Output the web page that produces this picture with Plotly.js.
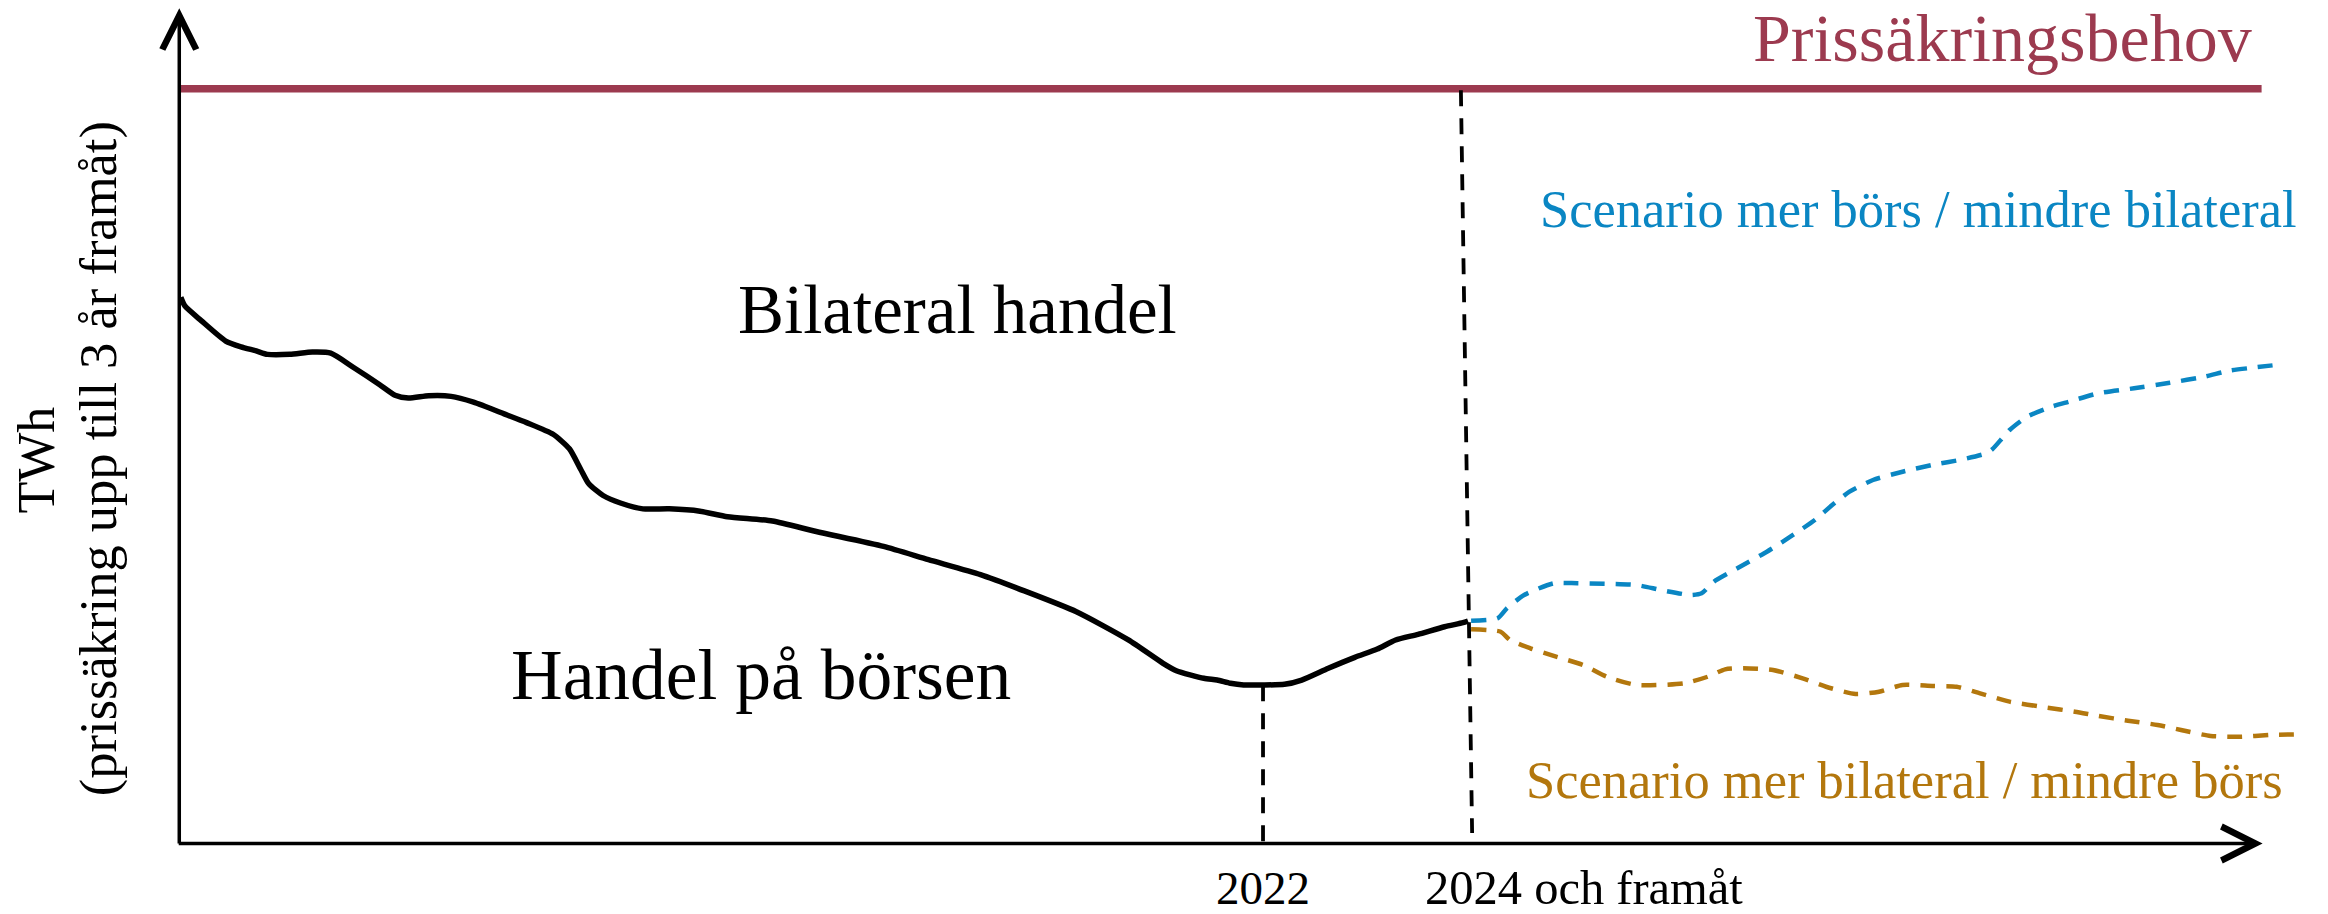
<!DOCTYPE html>
<html>
<head>
<meta charset="utf-8">
<script src="https://cdn.plot.ly/plotly-3.0.1.min.js"></script>
<style>
  html, body { margin: 0; padding: 0; background: #ffffff; }
  #chart { width: 2328px; height: 914px; }
</style>
</head>
<body>
<div id="chart"></div>
<script>
// ---- Data (schematic) ----
const histYears = [2011.39, 2011.43, 2011.59, 2011.83, 2011.98, 2012.13, 2012.24, 2012.46, 2012.68, 2012.86,
  2013.08, 2013.34, 2013.49, 2013.62, 2013.82, 2014.04, 2014.26, 2014.56, 2014.78, 2015.04,
  2015.20, 2015.31, 2015.39, 2015.53, 2015.70, 2015.92, 2016.18, 2016.48, 2016.75, 2017.19,
  2017.62, 2018.28, 2018.72, 2019.23, 2019.66, 2020.17, 2020.68, 2021.02, 2021.15, 2021.42,
  2021.55, 2021.68, 2021.81, 2021.99, 2022.21, 2022.38, 2022.64, 2022.90, 2023.12, 2023.30,
  2023.52, 2023.78, 2023.96, 2024.01];
const histTWh = [72.64, 71.49, 69.55, 66.84, 66.07, 65.53, 65.07, 65.07, 65.37, 65.23,
  63.37, 61.05, 59.66, 59.27, 59.58, 59.50, 58.73, 57.18, 56.02, 54.47,
  52.55, 49.84, 47.90, 46.35, 45.36, 44.58, 44.58, 44.27, 43.54, 42.97,
  41.58, 39.60, 37.84, 35.86, 33.70, 30.94, 27.20, 24.10, 23.12, 22.11,
  21.88, 21.45, 21.22, 21.22, 21.31, 21.88, 23.44, 24.89, 25.99, 27.19,
  27.94, 28.95, 29.48, 29.71];

// Scenario: mer börs / mindre bilateral
const moreExchangeYears = [2024.04, 2024.30, 2024.39, 2024.56, 2024.85, 2025.08, 2025.66, 2025.90, 2026.19, 2026.30,
  2026.42, 2026.65, 2026.94, 2027.17, 2027.41, 2027.58, 2027.75, 2027.98, 2028.27, 2028.56,
  2028.86, 2029.09, 2029.15, 2029.32, 2029.49, 2029.73, 2029.90, 2030.19, 2030.54, 2030.89,
  2031.23, 2031.47, 2031.70, 2031.93];
const moreExchangeTWh = [29.75, 30.07, 31.39, 33.16, 34.71, 34.71, 34.48, 33.82, 33.16, 33.38,
  34.92, 36.70, 38.90, 40.89, 43.10, 45.09, 46.86, 48.41, 49.51, 50.40,
  51.15, 51.95, 52.48, 55.04, 56.80, 58.13, 58.79, 59.91, 60.57, 61.31,
  62.11, 62.90, 63.30, 63.66];

// Scenario: mer bilateral / mindre börs
const moreBilateralYears = [2024.04, 2024.33, 2024.42, 2024.62, 2024.85, 2025.14, 2025.37, 2025.66, 2026.13, 2026.36,
  2026.53, 2026.71, 2027.00, 2027.29, 2027.52, 2027.81, 2028.04, 2028.27, 2028.56, 2028.80,
  2029.03, 2029.32, 2029.67, 2029.96, 2030.19, 2030.48, 2030.77, 2031.00, 2031.29, 2031.58,
  2031.87, 2032.16];
const moreBilateralTWh = [28.61, 28.29, 27.19, 26.09, 25.07, 23.87, 22.32, 21.22, 21.45, 22.32,
  23.30, 23.44, 23.21, 22.11, 20.99, 20.03, 20.33, 21.22, 21.09, 20.99,
  20.12, 19.01, 18.26, 17.68, 17.11, 16.49, 15.92, 15.25, 14.46, 14.36,
  14.59, 14.68];

// Prissäkringsbehov (hedging need)
const hedgeYears = [2011.38, 2031.79];
const hedgeTWh = [100.3, 100.3];

// Marker lines (2022 and 2024)
const guideYears = [[2022.0, 2022.0], [2023.94, 2024.05]];
const guideTWh = [[21.2, -1.06], [100.1, 1.6]];

// Axis extents
const axisOrigin = [2011.375, 0.2];
const axisEnds = [2031.80, 110.97];

// Tick labels
const tickYears = [2022, 2024];
const tickLabels = ['2022', '2024 och framåt'];

// Axis title lines
const yTitleLines = ['TWh', '(prissäkring upp till 3 år framåt)'];

// ---- Style ----
const FONT = 'Liberation Serif, Times New Roman, serif';
const RED = '#9C3A4F';
const BLUE = '#0A86C3';
const ORANGE = '#B3770D';

const traces = [
  { x: hedgeYears, y: hedgeTWh, mode: 'lines', line: { color: RED, width: 7.5 }, hoverinfo: 'skip', showlegend: false },
  { x: guideYears[0], y: guideTWh[0], mode: 'lines', line: { color: '#000', width: 3.8, dash: '16px,12px' }, hoverinfo: 'skip', showlegend: false },
  { x: guideYears[1], y: guideTWh[1], mode: 'lines', line: { color: '#000', width: 3.8, dash: '16px,12px' }, hoverinfo: 'skip', showlegend: false },
  { x: histYears, y: histTWh, mode: 'lines', line: { color: '#000', width: 5.5, shape: 'spline', smoothing: 0.6 }, hoverinfo: 'skip', showlegend: false },
  { x: moreExchangeYears, y: moreExchangeTWh, mode: 'lines', line: { color: BLUE, width: 4.5, dash: '15px,11px', shape: 'spline', smoothing: 0.6 }, hoverinfo: 'skip', showlegend: false },
  { x: moreBilateralYears, y: moreBilateralTWh, mode: 'lines', line: { color: ORANGE, width: 4.5, dash: '15px,11px', shape: 'spline', smoothing: 0.6 }, hoverinfo: 'skip', showlegend: false }
];

const annotations = [
  // axes with open chevron heads
  { x: axisEnds[0], y: axisOrigin[1], ax: axisOrigin[0] - 0.02, ay: axisOrigin[1], xref: 'x', yref: 'y', axref: 'x', ayref: 'y',
    text: '', showarrow: true, arrowhead: 5, arrowsize: 1.9, arrowwidth: 3.5, arrowcolor: '#000', standoff: 0, startstandoff: 0 },
  { x: axisOrigin[0], y: axisEnds[1], ax: axisOrigin[0], ay: axisOrigin[1] - 0.2, xref: 'x', yref: 'y', axref: 'x', ayref: 'y',
    text: '', showarrow: true, arrowhead: 5, arrowsize: 1.9, arrowwidth: 3.5, arrowcolor: '#000', standoff: 0, startstandoff: 0 },
  // labels
  { x: 2031.715, y: 107.03, xref: 'x', yref: 'y', xanchor: 'right', yanchor: 'middle', showarrow: false,
    text: 'Prissäkringsbehov', font: { family: FONT, size: 68, color: RED } },
  { x: 2032.16, y: 84.35, xref: 'x', yref: 'y', xanchor: 'right', yanchor: 'middle', showarrow: false,
    text: 'Scenario mer börs / mindre bilateral', font: { family: FONT, size: 52.5, color: BLUE } },
  { x: 2032.02, y: 8.62, xref: 'x', yref: 'y', xanchor: 'right', yanchor: 'middle', showarrow: false,
    text: 'Scenario mer bilateral / mindre börs', font: { family: FONT, size: 52.5, color: ORANGE } },
  { x: 2019.0, y: 70.95, xref: 'x', yref: 'y', xanchor: 'center', yanchor: 'middle', showarrow: false,
    text: 'Bilateral handel', font: { family: FONT, size: 69, color: '#000' } },
  { x: 2017.08, y: 22.55, xref: 'x', yref: 'y', xanchor: 'center', yanchor: 'middle', showarrow: false,
    text: 'Handel på börsen', font: { family: FONT, size: 71.5, color: '#000' } },
  // tick labels
  { x: tickYears[0], y: -5.7, xref: 'x', yref: 'y', xanchor: 'center', yanchor: 'middle', showarrow: false,
    text: tickLabels[0], font: { family: FONT, size: 47, color: '#000' } },
  { x: tickYears[1], y: -5.7, xref: 'x', yref: 'y', xanchor: 'left', yanchor: 'middle', xshift: -44, showarrow: false,
    text: tickLabels[1], font: { family: FONT, size: 48.5, color: '#000' } },
  // y axis title (two rotated lines)
  { x: -0.0523, y: 51.0, xref: 'paper', yref: 'y', xanchor: 'center', yanchor: 'middle', showarrow: false, textangle: -90,
    text: yTitleLines[0], font: { family: FONT, size: 52, color: '#000' } },
  { x: -0.0239, y: 51.3, xref: 'paper', yref: 'y', xanchor: 'center', yanchor: 'middle', showarrow: false, textangle: -90,
    text: yTitleLines[1], font: { family: FONT, size: 52.5, color: '#000' } }
];

const layout = {
  width: 2328, height: 914,
  margin: { l: 150, r: 0, t: 0, b: 14, pad: 0 },
  paper_bgcolor: '#ffffff', plot_bgcolor: '#ffffff',
  showlegend: false,
  xaxis: { range: [2011.088, 2032.441], visible: false, showgrid: false, zeroline: false, fixedrange: true },
  yaxis: { range: [-7.294, 112.069], visible: false, showgrid: false, zeroline: false, fixedrange: true },
  annotations: annotations
};

Plotly.newPlot('chart', traces, layout, { staticPlot: true, displayModeBar: false });
</script>
</body>
</html>
